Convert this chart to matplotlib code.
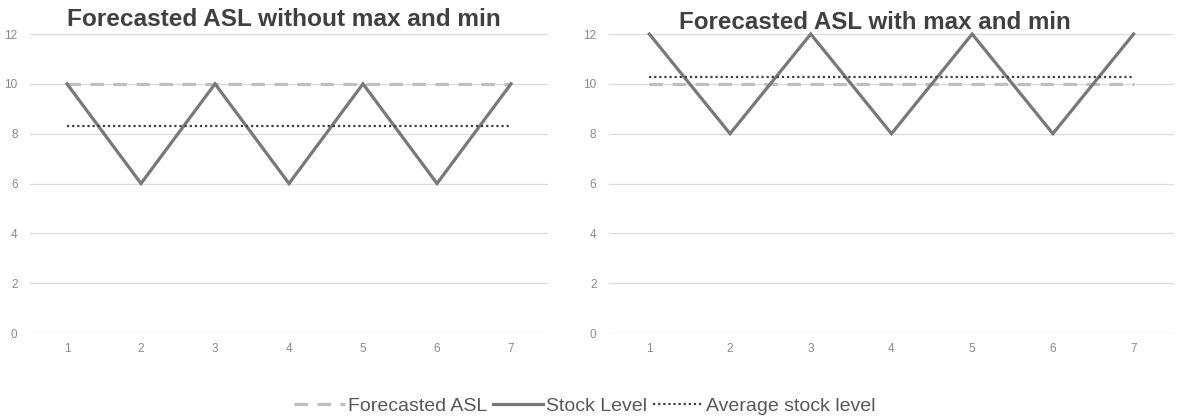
import numpy as np
import matplotlib
matplotlib.use("Agg")
import matplotlib.pyplot as plt

plt.rcParams['font.family'] = ['Liberation Sans', 'DejaVu Sans']

periods = [1, 2, 3, 4, 5, 6, 7]

# without max and min
asl_left = [10, 10, 10, 10, 10, 10, 10]
stock_left = [10, 6, 10, 6, 10, 6, 10]
avg_left = [8.29] * 7

# with max and min
asl_right = [10, 10, 10, 10, 10, 10, 10]
stock_right = [12, 8, 12, 8, 12, 8, 12]
avg_right = [10.29] * 7

yticks = [0, 2, 4, 6, 8, 10, 12]

ASL_COLOR = '#bfbfbf'
STOCK_COLOR = '#787878'
AVG_COLOR = '#404040'
GRID_COLOR = '#dcdcdc'
TICK_COLOR = '#8a8a8a'


def draw_panel(ax, asl, stock, avg):
    ax.set_axisbelow(True)
    l1, = ax.plot(periods, asl, color=ASL_COLOR, lw=2.3, dashes=(4.2, 3.0),
                  solid_capstyle='butt', clip_on=False, label='Forecasted ASL')
    l2, = ax.plot(periods, stock, color=STOCK_COLOR, lw=2.3, clip_on=False,
                  solid_joinstyle='miter', label='Stock Level')
    l3, = ax.plot(periods, avg, color=AVG_COLOR, lw=1.6, dashes=(1.0, 1.3),
                  clip_on=False, label='Average stock level')
    ax.set_xlim(0.5, 7.5)
    ax.set_ylim(0, 12)
    ax.set_xticks(periods)
    ax.set_yticks(yticks)
    ax.yaxis.grid(True, color=GRID_COLOR, lw=0.9)
    for s in ax.spines.values():
        s.set_visible(False)
    ax.tick_params(axis='both', length=0, labelsize=8.5, colors=TICK_COLOR)
    ax.tick_params(axis='y', pad=9)
    ax.tick_params(axis='x', pad=7)
    return [l1, l2, l3]


fig = plt.figure(figsize=(11.77, 4.18), dpi=100)
ax1 = fig.add_axes([0.0255, 0.2033, 0.4401, 0.7153])
ax2 = fig.add_axes([0.5174, 0.2033, 0.4800, 0.7153])

handles = draw_panel(ax1, asl_left, stock_left, avg_left)
draw_panel(ax2, asl_right, stock_right, avg_right)

fig.text(0.2413, 0.954, 'Forecasted ASL without max and min', ha='center',
         va='center', fontsize=17.6, fontweight='bold', color='#404040')
fig.text(0.7434, 0.945, 'Forecasted ASL with max and min', ha='center',
         va='center', fontsize=17.4, fontweight='bold', color='#404040')

fig.legend(handles=handles, loc='center', bbox_to_anchor=(0.497, 0.029),
           ncol=3, frameon=False, fontsize=14, handlelength=2.6,
           handletextpad=0.15, columnspacing=0.3, labelcolor='#595959')

fig.savefig('out.png', dpi=100)
